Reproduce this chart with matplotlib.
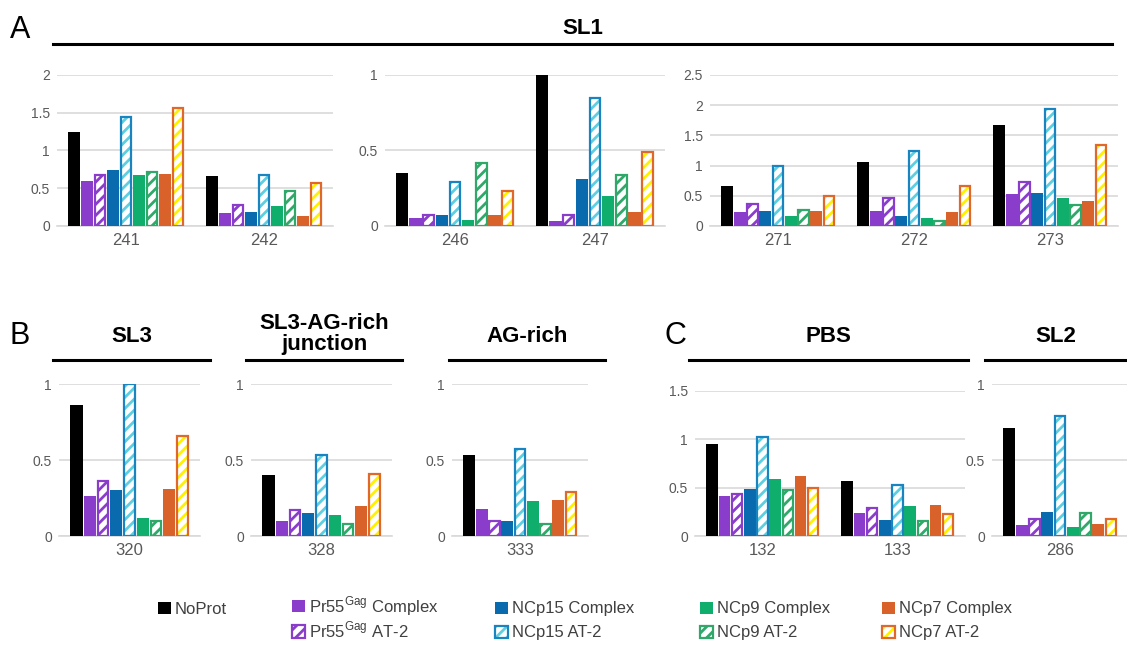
import matplotlib.pyplot as plt
import numpy as np
from matplotlib.patches import Patch
from matplotlib.lines import Line2D

plt.rcParams['font.family'] = ['Liberation Sans', 'DejaVu Sans']
plt.rcParams['mathtext.fontset'] = 'custom'
plt.rcParams['mathtext.rm'] = 'Liberation Sans'
plt.rcParams['hatch.linewidth'] = 2.0

series = ["NoProt", "Pr55$^{\\mathrm{Gag}}$ Complex", "Pr55$^{\\mathrm{Gag}}$ AT-2",
          "NCp15 Complex", "NCp15 AT-2", "NCp9 Complex", "NCp9 AT-2",
          "NCp7 Complex", "NCp7 AT-2"]
face = ["#000000", "#8A3DCB", "white", "#0A6AAE", "white", "#10AE6C", "white", "#D9622B", "white"]
hatchc = [None, None, "#8A3DCB", None, "#5ECFE0", None, "#2FA86A", None, "#FFF200"]
edge = [None, None, "#8A3DCB", None, "#1A84C0", None, "#2FA86A", None, "#E0682A"]

# values per nucleotide position, in series order
v241 = [1.25, 0.59, 0.67, 0.74, 1.44, 0.67, 0.72, 0.69, 1.56]
v242 = [0.66, 0.17, 0.28, 0.19, 0.68, 0.27, 0.47, 0.13, 0.57]
v246 = [0.35, 0.05, 0.07, 0.07, 0.29, 0.04, 0.42, 0.07, 0.23]
v247 = [1.00, 0.03, 0.07, 0.31, 0.85, 0.20, 0.34, 0.09, 0.49]
v271 = [0.67, 0.23, 0.36, 0.25, 0.99, 0.17, 0.27, 0.25, 0.49]
v272 = [1.06, 0.25, 0.46, 0.17, 1.24, 0.13, 0.08, 0.23, 0.66]
v273 = [1.68, 0.53, 0.73, 0.54, 1.94, 0.46, 0.35, 0.42, 1.34]
v320 = [0.86, 0.26, 0.36, 0.30, 1.00, 0.12, 0.10, 0.31, 0.66]
v328 = [0.40, 0.10, 0.17, 0.15, 0.53, 0.14, 0.08, 0.20, 0.41]
v333 = [0.53, 0.18, 0.10, 0.10, 0.57, 0.23, 0.08, 0.24, 0.29]
v132 = [0.95, 0.41, 0.43, 0.49, 1.02, 0.59, 0.48, 0.62, 0.50]
v133 = [0.57, 0.24, 0.29, 0.17, 0.53, 0.31, 0.16, 0.32, 0.23]
v286 = [0.71, 0.07, 0.11, 0.16, 0.79, 0.06, 0.15, 0.08, 0.11]

W, H = 1127, 647
fig = plt.figure(figsize=(W / 100, H / 100), dpi=100)

def px_axes(x0, x1, ytop, ybot):
    return fig.add_axes([x0 / W, 1 - ybot / H, (x1 - x0) / W, (ybot - ytop) / H])

grey = "#595959"
bw = 0.094

def panel(rect, labels, groups, ymax):
    ax = px_axes(*rect)
    n = len(labels)
    for j in range(9):
        xs = np.arange(n) + (j - 4) * bw
        ys = [g[j] for g in groups]
        if hatchc[j] is None:
            ax.bar(xs, ys, bw * 0.92, color=face[j], zorder=3)
        else:
            ax.bar(xs, ys, bw * 0.92, facecolor="white", edgecolor=hatchc[j],
                   hatch="///", linewidth=0, zorder=3)
            ax.bar(xs, ys, bw * 0.80, fill=False, edgecolor=edge[j],
                   linewidth=1.6, zorder=4)
    ax.set_xlim(-0.5, n - 0.5)
    ax.set_ylim(0, ymax)
    yt = np.arange(0, ymax + 0.01, 0.5)
    ax.set_yticks(yt)
    ax.set_yticklabels(["%g" % t for t in yt], color=grey, fontsize=10)
    ax.set_xticks(np.arange(n))
    ax.set_xticklabels(labels, color=grey, fontsize=12)
    ax.tick_params(length=0, pad=5)
    ax.grid(axis="y", color="#D9D9D9", linewidth=1.2, zorder=0)
    for s in ["left", "right", "top"]:
        ax.spines[s].set_visible(False)
    ax.spines["bottom"].set_color("#D9D9D9")
    ax.spines["bottom"].set_linewidth(1.2)
    ax.set_axisbelow(True)
    return ax

panel((57, 333, 75, 226), ["241", "242"], [v241, v242], 2)
panel((385, 665, 75, 226), ["246", "247"], [v246, v247], 1)
panel((710, 1118, 75, 226), ["271", "272", "273"], [v271, v272, v273], 2.5)
panel((59, 200, 384, 536), ["320"], [v320], 1)
panel((251, 392, 384, 536), ["328"], [v328], 1)
panel((452, 588, 384, 536), ["333"], [v333], 1)
panel((695, 965, 391, 536), ["132", "133"], [v132, v133], 1.5)
panel((992, 1128, 384, 536), ["286"], [v286], 1)

def header(x0, x1, y, title, ty):
    fig.add_artist(Line2D([x0 / W, x1 / W], [1 - y / H, 1 - y / H], color="black", linewidth=2.2))
    fig.text((x0 + x1) / 2 / W, 1 - ty / H, title, ha="center", va="center",
             fontsize=16, fontweight="bold", linespacing=1.0)

header(53, 1112, 44, "SL1", 28)
header(53, 210, 360, "SL3", 336)
header(246, 402, 360, "SL3-AG-rich\njunction", 334)
header(449, 605, 360, "AG-rich", 336)
header(689, 968, 360, "PBS", 336)
header(985, 1127, 360, "SL2", 336)

fig.text(10 / W, 1 - 30 / H, "A", fontsize=22, va="center")
fig.text(10 / W, 1 - 336 / H, "B", fontsize=22, va="center")
fig.text(664 / W, 1 - 336 / H, "C", fontsize=22, va="center")

handles = []
for j in range(9):
    if hatchc[j] is None:
        handles.append(Patch(facecolor=face[j], edgecolor="none"))
    else:
        handles.append((Patch(facecolor="white", edgecolor=hatchc[j], hatch="///", linewidth=0),
                        Patch(fill=False, edgecolor=edge[j], linewidth=1.6)))

# legend entry positions (pixel x of marker, row)
spots = [(158, 0), (292, 0), (292, 1), (495, 0), (495, 1), (700, 0), (700, 1), (882, 0), (882, 1)]
for j, (x, row) in enumerate(spots):
    y = 609 + row * 24
    if j in (1, 2):
        y -= 3  # superscript makes the text box taller
    leg = fig.legend([handles[j]], [series[j]], loc="center left",
                     bbox_to_anchor=(x / W, 1 - y / H), frameon=False, fontsize=12,
                     handlelength=0.75, handleheight=0.75, handletextpad=0.25,
                     borderpad=0, borderaxespad=0)
    for t in leg.get_texts():
        t.set_color("#404040")

fig.savefig("out.png", dpi=100)
